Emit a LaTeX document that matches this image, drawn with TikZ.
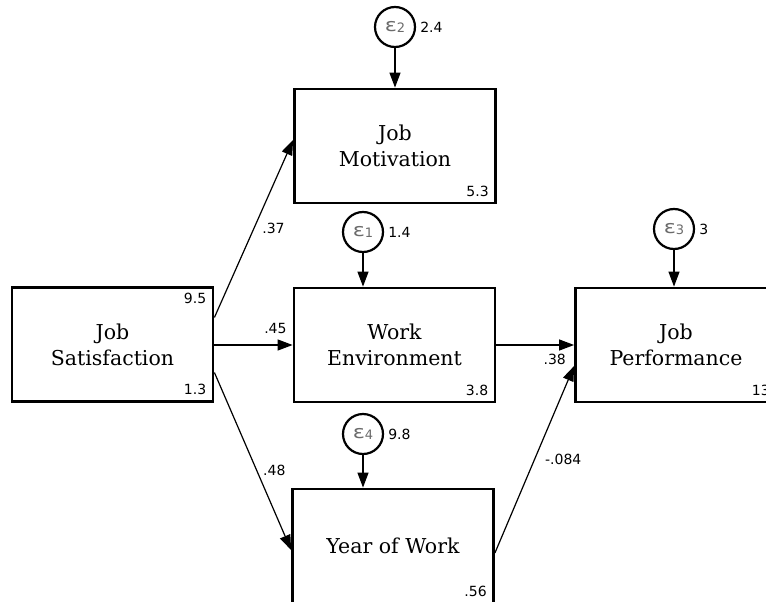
\documentclass[tikz,border=0pt]{standalone}
\usepackage{fontspec}
\setmainfont{DejaVu Serif}
\newfontfamily\numfont{DejaVu Sans}
\usetikzlibrary{arrows.meta}

\definecolor{epsgray}{gray}{0.42}
% error term label: epsilon with its index
\newcommand{\errlabel}[1]{\textcolor{epsgray}{\numfont\fontsize{18}{18}\selectfont\scalebox{1.25}[1]{ε}\raisebox{-1pt}{\fontsize{13}{13}\selectfont #1}}}

\begin{document}
\begin{tikzpicture}[x=1pt,y=-1pt,
  var/.style={draw, line width=2.8pt, minimum width=201pt, minimum height=114pt,
    align=center, font=\fontsize{20.5}{26}\selectfont},
  err/.style={draw, circle, line width=2.2pt, minimum size=40pt, inner sep=0pt},
  num/.style={font=\numfont\fontsize{14}{16}\selectfont, inner sep=0pt},
  path/.style={line width=1.2pt, -{Triangle[length=15pt,width=11pt]}}]
\useasboundingbox (0,0) rectangle (766,602);
\clip (0,0) rectangle (766,602);

% observed variables
\node[var] (js) at (112.5,344.5) {Job\\Satisfaction};
\node[var] (jm) at (395,146) {Job\\Motivation};
\node[var] (we) at (394.5,345) {Work\\Environment};
\node[var] (jp) at (676,345) {Job\\Performance};
\node[var] (yw) at (393,546) {Year of Work};

% means and intercepts
\node[num, anchor=north east] at ([shift={(-8pt,-7pt)}]js.north east) {9.5};
\node[num, anchor=south east] at ([shift={(-8pt,8pt)}]js.south east) {1.3};
\node[num, anchor=south east] at ([shift={(-8pt,8pt)}]jm.south east) {5.3};
\node[num, anchor=south east] at ([shift={(-8pt,8pt)}]we.south east) {3.8};
\node[num, anchor=south east] at ([shift={(-8pt,8pt)}]jp.south east) {13};
\node[num, anchor=south east] at ([shift={(-8pt,8pt)}]yw.south east) {.56};

% error terms
\node[err] (e2) at (395,27) {\errlabel{2}};
\node[err] (e1) at (363,232) {\errlabel{1}};
\node[err] (e3) at (674,229) {\errlabel{3}};
\node[err] (e4) at (363,434) {\errlabel{4}};
\node[num, anchor=west] at ([xshift=4pt]e2.east) {2.4};
\node[num, anchor=west] at ([xshift=4pt]e1.east) {1.4};
\node[num, anchor=west] at ([xshift=4pt]e3.east) {3};
\node[num, anchor=west] at ([xshift=4pt]e4.east) {9.8};

\draw[path] (e2) -- (e2 |- jm.north);
\draw[path] (e1) -- (e1 |- we.north);
\draw[path] (e3) -- (e3 |- jp.north);
\draw[path] (e4) -- (e4 |- yw.north);

% paths
\draw[path] ([yshift=27pt]js.east) -- ([yshift=6pt]jm.west)
  node[num, pos=0.5, right=8pt] {.37};
\draw[path] (we.west -| js.east) -- (we.west)
  node[num, pos=0.78, above=11pt] {.45};
\draw[path] ([yshift=-28pt]js.east) -- ([yshift=-4pt]yw.west)
  node[num, pos=0.55, right=6pt] {.48};
\draw[path] (we) -- (jp)
  node[num, pos=0.75, below=9pt] {.38};
\draw[path] ([yshift=-7pt]yw.east) -- ([yshift=-21pt]jp.west)
  node[num, pos=0.5, right=10pt] {-.084};
\end{tikzpicture}
\end{document}
